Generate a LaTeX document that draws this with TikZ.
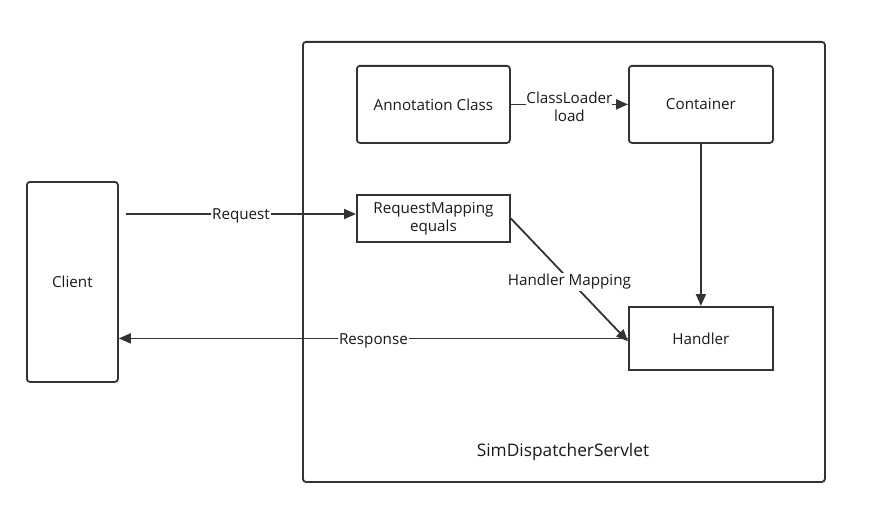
\documentclass[tikz,border=0pt]{standalone}
\usepackage{fontspec}
\setmainfont{Open Sans}
\usetikzlibrary{arrows.meta}
\begin{document}
\begin{tikzpicture}[x=1pt,y=-1pt,
  line width=1.8pt,
  ink/.style={draw=black!80},
  box/.style={ink, rectangle, inner sep=0pt, anchor=north west, font=\fontsize{15.2}{18}\selectfont, text=black!90},
  roundbox/.style={box, rounded corners=3pt},
  conn/.style={ink, -{Triangle[length=12pt,width=10pt]}},
  lbl/.style={fill=white, inner sep=1pt, yshift=-2pt, font=\fontsize{15.2}{18}\selectfont, text=black!90, align=center}
]
\useasboundingbox (0,0) rectangle (880,527);

% servlet frame
\node[roundbox, minimum width=522pt, minimum height=440pt] (servlet) at (302,41) {};
\node[font=\fontsize{17.3}{20}\selectfont, text=black!90] (title) at (563,452) {SimDispatcherServlet};

% components
\node[roundbox, minimum width=91pt, minimum height=200pt] (client) at (26,181) {Client};
\node[roundbox, minimum width=153pt, minimum height=77pt] (anno) at (356,65) {Annotation Class};
\node[roundbox, minimum width=144pt, minimum height=77pt] (cont) at (628,65) {Container};
\node[box, minimum width=153pt, minimum height=47pt, align=center, font=\fontsize{15.2}{18}\selectfont] (rm) at (356,194) {RequestMapping\\equals};
\node[box, minimum width=144pt, minimum height=63pt] (handler) at (628,306) {Handler};

% connectors
\coordinate (reqstart) at (126,214);
\draw[conn] (reqstart) -- (reqstart -| rm.west) node[midway, lbl] {Request};
\draw[conn] (anno.east) -- (cont.west) node[midway, lbl, inner sep=0pt, font=\fontsize{15.2}{18}\selectfont] {ClassLoader\\load};
\draw[conn] (cont.south) -- (handler.north);
\draw[conn] (rm.east) -- ([yshift=-3pt]handler.west) node[midway, lbl] {Handler Mapping};
\draw[conn] (handler.west) -- (handler.west -| client.east) node[midway, lbl] {Response};
\end{tikzpicture}
\end{document}
